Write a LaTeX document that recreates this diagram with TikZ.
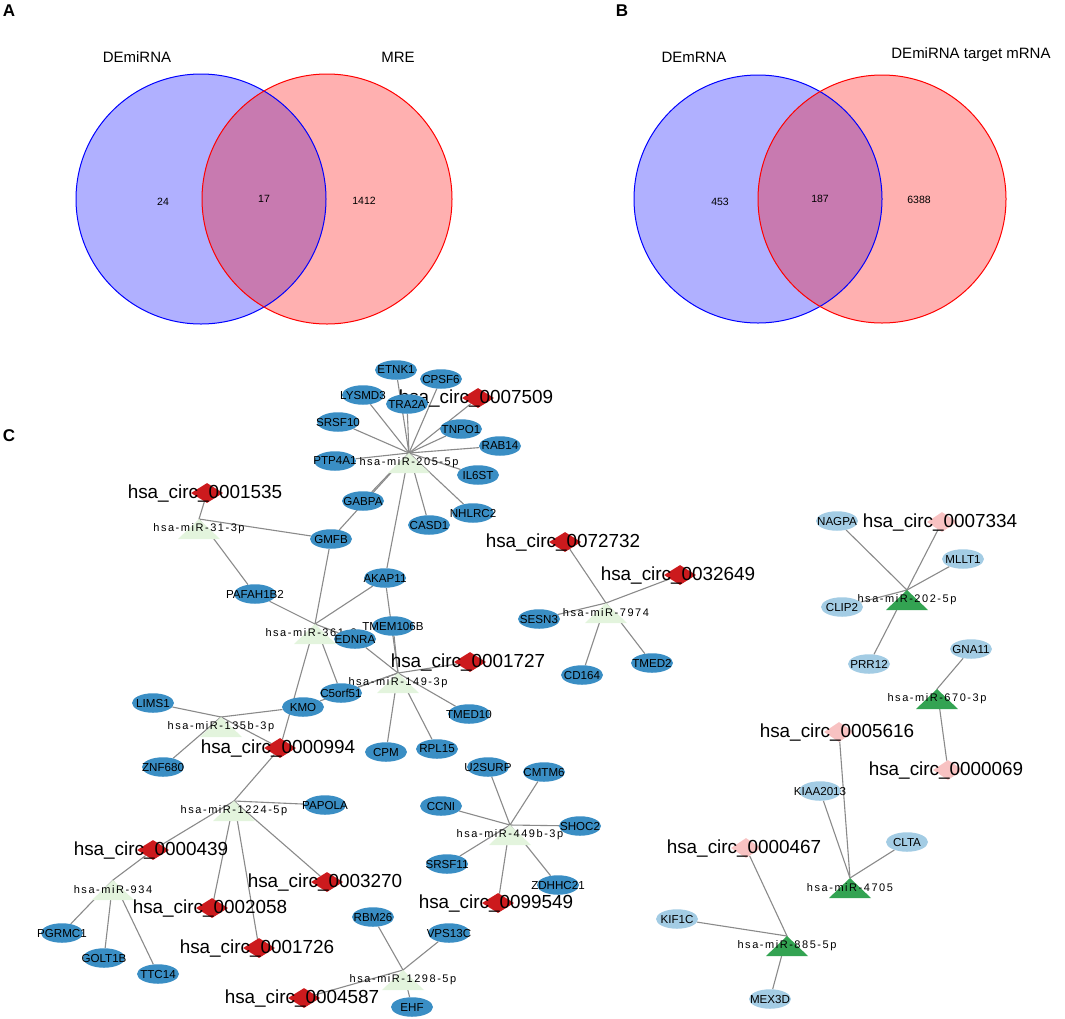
\documentclass[tikz,border=0pt]{standalone}
\usepackage{fontspec}
\setmainfont{Liberation Sans}
\newfontfamily\mirfont[LetterSpace=14]{Liberation Sans}
\usetikzlibrary{shapes.geometric}
\pgfdeclarelayer{edgelayer}
\pgfsetlayers{edgelayer,main}
\definecolor{genedark}{HTML}{3A8EC4}
\definecolor{genelight}{HTML}{A3CCE4}
\definecolor{circred}{HTML}{CC1A1D}
\definecolor{circpink}{HTML}{F8C2C2}
\definecolor{mirlight}{HTML}{E3F4DD}
\definecolor{mirdark}{HTML}{33A352}
\definecolor{vblue}{HTML}{B0B0FF}
\definecolor{vred}{HTML}{FFB0B0}
\definecolor{vmix}{HTML}{C87AB0}
\definecolor{edgegray}{HTML}{8A8A8A}
\tikzset{
  gtext/.style={font=\fontsize{11.6}{11.6}\selectfont, inner sep=0pt, text=black},
  ctext/.style={font=\fontsize{18.9}{19}\selectfont, inner sep=0pt, text=black},
  mtext/.style={font=\mirfont\fontsize{11}{11}\selectfont, inner sep=0pt, text=black},
  gene/.style={ellipse, fill=genedark, minimum width=42pt, minimum height=19.5pt, inner sep=0pt, label={[gtext]center:#1}},
  lgene/.style={ellipse, fill=genelight, minimum width=42pt, minimum height=19.5pt, inner sep=0pt, label={[gtext]center:#1}},
  circ/.style={diamond, fill=circred, minimum width=32pt, minimum height=20pt, inner sep=0pt, label={[ctext, xshift=-2pt, yshift=-1pt]center:#1}},
  pcirc/.style={diamond, fill=circpink, minimum width=30pt, minimum height=20pt, inner sep=0pt, label={[ctext, xshift=-2pt, yshift=-1pt]center:#1}},
  edge/.style={draw=edgegray, line width=1.1pt},
  vlabel/.style={font=\fontsize{15}{15}\selectfont, inner sep=0pt},
  vnum/.style={font=\fontsize{10.5}{11}\selectfont, inner sep=0pt},
  panel/.style={font=\fontsize{17}{17}\selectfont\bfseries, inner sep=0pt}
}
\newcommand\mirnode[5]{%
  \coordinate (#1) at (#2,#3);
  \fill[#4] (#2,#3) -- ++(21,20) -- ++(-42,0) -- cycle;
  \node[mtext] (#1-l) at (#2,#3+9.5) {#5};}
\begin{document}
\begin{tikzpicture}[x=1pt,y=-1pt]
\useasboundingbox (0,0) rectangle (1065,1018);
% ---------- Venn A ----------
\fill[vblue] (201,199) circle [radius=125pt];
\fill[vred] (327,199) circle [radius=125pt];
\begin{scope}
  \clip (201,199) circle [radius=125pt];
  \fill[vmix] (327,199) circle [radius=125pt];
\end{scope}
\draw[blue, line width=1pt] (201,199) circle [radius=125pt];
\draw[red, line width=1pt] (327,199) circle [radius=125pt];
\node[vlabel] (la1) at (137,57) {DEmiRNA};
\node[vlabel] (la2) at (398,57) {MRE};
\node[vnum] (na1) at (163,202) {24};
\node[vnum] (na2) at (264,199) {17};
\node[vnum] (na3) at (364,201) {1412};
% ---------- Venn B ----------
\fill[vblue] (758,199) circle [radius=124pt];
\fill[vred] (882,199) circle [radius=124pt];
\begin{scope}
  \clip (758,199) circle [radius=124pt];
  \fill[vmix] (882,199) circle [radius=124pt];
\end{scope}
\draw[blue, line width=1pt] (758,199) circle [radius=124pt];
\draw[red, line width=1pt] (882,199) circle [radius=124pt];
\node[vlabel] (lb1) at (694,57) {DEmRNA};
\node[vlabel] (lb2) at (971,55) {DEmiRNA target mRNA};
\node[vnum] (nb1) at (720,202) {453};
\node[vnum] (nb2) at (820,199) {187};
\node[vnum] (nb3) at (919,200) {6388};
% panel letters
\node[panel] (pA) at (9,11) {A};
\node[panel] (pB) at (622,11) {B};
\node[panel] (pC) at (9,436) {C};
% ---------- miRNAs ----------
\mirnode{m205}{409}{453}{mirlight}{hsa-miR-205-5p}
\mirnode{m31}{199}{519}{mirlight}{hsa-miR-31-3p}
\mirnode{m36}{315}{624}{mirlight}{hsa-miR-361-3p}
\mirnode{m149}{398}{673}{mirlight}{hsa-miR-149-3p}
\mirnode{m135}{221}{717}{mirlight}{hsa-miR-135b-3p}
\mirnode{m1224}{234}{801}{mirlight}{hsa-miR-1224-5p}
\mirnode{m934}{113}{880}{mirlight}{hsa-miR-934}
\mirnode{m449}{510}{825}{mirlight}{hsa-miR-449b-3p}
\mirnode{m1298}{403}{970}{mirlight}{hsa-miR-1298-5p}
\mirnode{m7974}{606}{603}{mirlight}{hsa-miR-7974}
\mirnode{m202}{907}{590}{mirdark}{hsa-miR-202-5p}
\mirnode{m670}{937}{689}{mirdark}{hsa-miR-670-3p}
\mirnode{m4705}{850}{878}{mirdark}{hsa-miR-4705}
\mirnode{m885}{787}{936}{mirdark}{hsa-miR-885-5p}
% ---------- circRNAs ----------
\node[circ=hsa\_circ\_0007509] (c0007509) at (478,398) {};
\node[circ=hsa\_circ\_0001535] (c0001535) at (207,493) {};
\node[circ=hsa\_circ\_0072732] (c0072732) at (565,542) {};
\node[circ=hsa\_circ\_0032649] (c0032649) at (680,575) {};
\node[circ=hsa\_circ\_0001727] (c0001727) at (470,662) {};
\node[circ=hsa\_circ\_0000994] (c0000994) at (280,748) {};
\node[circ=hsa\_circ\_0000439] (c0000439) at (153,850) {};
\node[circ=hsa\_circ\_0003270] (c0003270) at (327,882) {};
\node[circ=hsa\_circ\_0002058] (c0002058) at (212,908) {};
\node[circ=hsa\_circ\_0001726] (c0001726) at (259,948) {};
\node[circ=hsa\_circ\_0099549] (c0099549) at (498,903) {};
\node[circ=hsa\_circ\_0004587] (c0004587) at (304,998) {};
\node[pcirc=hsa\_circ\_0007334] (c0007334) at (942,522) {};
\node[pcirc=hsa\_circ\_0005616] (c0005616) at (839,732) {};
\node[pcirc=hsa\_circ\_0000069] (c0000069) at (948,770) {};
\node[pcirc=hsa\_circ\_0000467] (c0000467) at (746,848) {};
% ---------- genes ----------
\node[gene=ETNK1] (ETNK1) at (396,370) {};
\node[gene=CPSF6] (CPSF6) at (441,379) {};
\node[gene=LYSMD3] (LYSMD3) at (363,395) {};
\node[gene=TRA2A] (TRA2A) at (407,404) {};
\node[gene=SRSF10] (SRSF10) at (338,422) {};
\node[gene=TNPO1] (TNPO1) at (461,429) {};
\node[gene=RAB14] (RAB14) at (500,446) {};
\node[gene=PTP4A1] (PTP4A1) at (335,461) {};
\node[gene=IL6ST] (IL6ST) at (478,475) {};
\node[gene=GABPA] (GABPA) at (363,501) {};
\node[gene=NHLRC2] (NHLRC2) at (473,513) {};
\node[gene=CASD1] (CASD1) at (429,525) {};
\node[gene=GMFB] (GMFB) at (331,539) {};
\node[gene=AKAP11] (AKAP11) at (385,578) {};
\node[gene=PAFAH1B2] (PAFAH1B2) at (255,594) {};
\node[gene=TMEM106B] (TMEM106B) at (393,626) {};
\node[gene=EDNRA] (EDNRA) at (355,639) {};
\node[gene=C5orf51] (C5orf51) at (341,693) {};
\node[gene=KMO] (KMO) at (303,707) {};
\node[gene=LIMS1] (LIMS1) at (153,703) {};
\node[gene=TMED10] (TMED10) at (469,714) {};
\node[gene=ZNF680] (ZNF680) at (163,767) {};
\node[gene=CPM] (CPM) at (386,752) {};
\node[gene=RPL15] (RPL15) at (437,749) {};
\node[gene=U2SURP] (U2SURP) at (488,767) {};
\node[gene=CMTM6] (CMTM6) at (544,772) {};
\node[gene=PAPOLA] (PAPOLA) at (325,805) {};
\node[gene=CCNI] (CCNI) at (441,806) {};
\node[gene=SHOC2] (SHOC2) at (580,826) {};
\node[gene=SRSF11] (SRSF11) at (447,864) {};
\node[gene=ZDHHC21] (ZDHHC21) at (558,885) {};
\node[gene=PGRMC1] (PGRMC1) at (62,933) {};
\node[gene=GOLT1B] (GOLT1B) at (104,958) {};
\node[gene=TTC14] (TTC14) at (158,974) {};
\node[gene=RBM26] (RBM26) at (373,917) {};
\node[gene=VPS13C] (VPS13C) at (449,933) {};
\node[gene=EHF] (EHF) at (412,1007) {};
\node[gene=SESN3] (SESN3) at (539,619) {};
\node[gene=CD164] (CD164) at (582,675) {};
\node[gene=TMED2] (TMED2) at (652,663) {};
\node[lgene=NAGPA] (NAGPA) at (837,521) {};
\node[lgene=MLLT1] (MLLT1) at (963,559) {};
\node[lgene=CLIP2] (CLIP2) at (842,607) {};
\node[lgene=PRR12] (PRR12) at (869,664) {};
\node[lgene=GNA11] (GNA11) at (971,649) {};
\node[lgene=KIAA2013] (KIAA2013) at (820,791) {};
\node[lgene=CLTA] (CLTA) at (907,842) {};
\node[lgene=KIF1C] (KIF1C) at (677,919) {};
\node[lgene=MEX3D] (MEX3D) at (770,999) {};
% ---------- edges ----------
\begin{pgfonlayer}{edgelayer}
\foreach \t in {ETNK1,CPSF6,LYSMD3,TRA2A,c0007509,SRSF10,TNPO1,RAB14,PTP4A1,IL6ST,GABPA,NHLRC2,CASD1,AKAP11,GMFB}
  \draw[edge] (m205) -- (\t);
\foreach \t in {c0001535,GMFB,PAFAH1B2}
  \draw[edge] (m31) -- (\t);
\foreach \t in {PAFAH1B2,GMFB,AKAP11,EDNRA,C5orf51,c0000994}
  \draw[edge] (m36) -- (\t);
\foreach \t in {EDNRA,AKAP11,TMEM106B,c0001727,C5orf51,KMO,TMED10,CPM,RPL15}
  \draw[edge] (m149) -- (\t);
\foreach \t in {LIMS1,KMO,ZNF680,c0000994}
  \draw[edge] (m135) -- (\t);
\foreach \t in {c0000994,PAPOLA,c0000439,c0002058,c0001726,c0003270}
  \draw[edge] (m1224) -- (\t);
\foreach \t in {c0000439,PGRMC1,GOLT1B,TTC14}
  \draw[edge] (m934) -- (\t);
\foreach \t in {U2SURP,CMTM6,CCNI,SHOC2,SRSF11,ZDHHC21,c0099549}
  \draw[edge] (m449) -- (\t);
\foreach \t in {RBM26,VPS13C,c0004587,EHF}
  \draw[edge] (m1298) -- (\t);
\foreach \t in {c0072732,c0032649,SESN3,CD164,TMED2}
  \draw[edge] (m7974) -- (\t);
\foreach \t in {NAGPA,c0007334,MLLT1,CLIP2,PRR12}
  \draw[edge] (m202) -- (\t);
\foreach \t in {GNA11,c0000069}
  \draw[edge] (m670) -- (\t);
\foreach \t in {c0005616,KIAA2013,CLTA}
  \draw[edge] (m4705) -- (\t);
\foreach \t in {c0000467,KIF1C,MEX3D}
  \draw[edge] (m885) -- (\t);
\end{pgfonlayer}
\end{tikzpicture}
\end{document}
